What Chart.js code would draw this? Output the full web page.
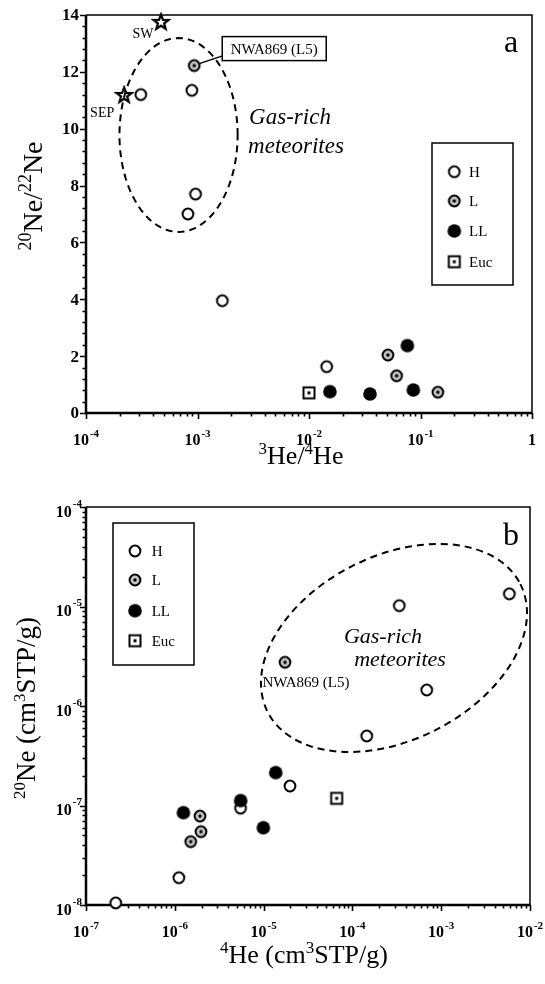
<!DOCTYPE html>
<html>
<head>
<meta charset="utf-8">
<script src="https://cdn.jsdelivr.net/npm/chart.js@4.4.1/dist/chart.umd.min.js"></script>
<style>
    html, body { margin: 0; padding: 0; background: #fff; }
    canvas { display: block; }
</style>
</head>
<body>
<canvas id="chartA" width="545" height="492"></canvas>
<canvas id="chartB" width="545" height="492"></canvas>
<script>
// ---- panel a : 20Ne/22Ne vs 3He/4He ----
const aHx = [3.1e-4, 8.9e-4, 9.6e-4, 8.2e-4, 1.67e-3, 0.0144];
const aHy = [11.2, 11.35, 7.7, 7.0, 3.95, 1.63];
const aLx = [9.35e-4, 0.051, 0.061, 0.143];
const aLy = [12.22, 2.04, 1.31, 0.73];
const aLLx = [0.0154, 0.0352, 0.0762, 0.0863];
const aLLy = [0.75, 0.67, 2.37, 0.81];
const aEucx = [0.0100];
const aEucy = [0.71];
const refNames = ["SW", "SEP"];
const refx = [4.7e-4, 2.2e-4];
const refy = [13.76, 11.19];

const aXTicks = [1e-4, 1e-3, 1e-2, 1e-1, 1];
const aXTickLabels = [["10", "-4"], ["10", "-3"], ["10", "-2"], ["10", "-1"], ["1", ""]];
const aYTicks = [0, 2, 4, 6, 8, 10, 12, 14];

// ---- panel b : 20Ne vs 4He ----
const bHx = [3.37e-4, 5.85e-3, 6.87e-4, 1.45e-4, 1.98e-5, 5.5e-6, 1.11e-6, 2.16e-7];
const bHy = [1.02e-5, 1.34e-5, 1.45e-6, 5.0e-7, 1.57e-7, 9.4e-8, 1.88e-8, 1.05e-8];
const bLx = [1.74e-5, 1.92e-6, 1.97e-6, 1.51e-6];
const bLy = [2.75e-6, 7.83e-8, 5.46e-8, 4.33e-8];
const bLLx = [1.37e-5, 9.93e-6, 5.52e-6, 1.25e-6];
const bLLy = [2.14e-7, 5.98e-8, 1.12e-7, 8.47e-8];
const bEucx = [6.65e-5];
const bEucy = [1.18e-7];

const bXTicks = [1e-7, 1e-6, 1e-5, 1e-4, 1e-3, 1e-2];
const bXTickLabels = [["10", "-7"], ["10", "-6"], ["10", "-5"], ["10", "-4"], ["10", "-3"], ["10", "-2"]];
const bYTicks = [1e-8, 1e-7, 1e-6, 1e-5, 1e-4];
const bYTickLabels = [["10", "-8"], ["10", "-7"], ["10", "-6"], ["10", "-5"], ["10", "-4"]];

const legendLabels = ["H", "L", "LL", "Euc"];

const FONT = '"Liberation Serif", "Times New Roman", serif';

// point markers drawn once on small canvases
function makeMarker(kind) {
    const c = document.createElement("canvas");
    c.width = 20; c.height = 20;
    const g = c.getContext("2d");
    const m = 10;
    g.strokeStyle = "#000";
    g.lineWidth = 2;
    if (kind === "H") {
        g.beginPath(); g.arc(m, m, 5.4, 0, Math.PI * 2);
        g.fillStyle = "#fff"; g.fill(); g.stroke();
    } else if (kind === "L") {
        g.beginPath(); g.arc(m, m, 5.4, 0, Math.PI * 2);
        g.fillStyle = "#c4c4c4"; g.fill(); g.stroke();
        g.beginPath(); g.arc(m, m, 1.7, 0, Math.PI * 2);
        g.fillStyle = "#000"; g.fill();
    } else if (kind === "LL") {
        g.beginPath(); g.arc(m, m, 6.8, 0, Math.PI * 2);
        g.fillStyle = "#000"; g.fill();
    } else if (kind === "Euc") {
        g.fillStyle = "#fff";
        g.fillRect(m - 5.5, m - 5.5, 11, 11);
        g.strokeRect(m - 5.5, m - 5.5, 11, 11);
        g.fillStyle = "#000";
        g.fillRect(m - 1.5, m - 1.5, 3, 3);
    } else if (kind === "star") {
        g.lineWidth = 2.3;
        g.lineJoin = "miter";
        g.beginPath();
        for (let i = 0; i < 10; i++) {
            const r = i % 2 === 0 ? 7.8 : 3.3;
            const a = -Math.PI / 2 + i * Math.PI / 5;
            const px = m + r * Math.cos(a), py = m + 0.5 + r * Math.sin(a);
            if (i === 0) g.moveTo(px, py); else g.lineTo(px, py);
        }
        g.closePath();
        g.fillStyle = "#fff"; g.fill(); g.stroke();
    }
    return c;
}

const markers = {
    H: makeMarker("H"),
    L: makeMarker("L"),
    LL: makeMarker("LL"),
    Euc: makeMarker("Euc"),
    star: makeMarker("star")
};

function scatterSet(label, xs, ys, marker) {
    return {
        label: label,
        data: xs.map((x, i) => ({ x: x, y: ys[i] })),
        pointStyle: marker,
        pointRadius: 7,
        pointHoverRadius: 7,
        showLine: false,
        clip: false
    };
}

function logMinor(fromExp, toExp) {
    const out = [];
    for (let e = fromExp; e < toExp; e++) {
        for (let k = 2; k <= 9; k++) out.push(k * Math.pow(10, e));
    }
    return out;
}

// "10" with a raised exponent; y is the middle of the base text
function drawPow(ctx, base, exp, x, y, align, expDy) {
    ctx.font = "bold 16px " + FONT;
    const wb = ctx.measureText(base).width;
    ctx.font = "bold 11px " + FONT;
    const we = exp ? ctx.measureText(exp).width + 1 : 0;
    const total = wb + we;
    const x0 = align === "right" ? x - total : x - total / 2;
    ctx.fillStyle = "#000";
    ctx.textAlign = "left";
    ctx.textBaseline = "middle";
    ctx.font = "bold 16px " + FONT;
    ctx.fillText(base, x0, y);
    if (exp) {
        ctx.font = "bold 11px " + FONT;
        ctx.fillText(exp, x0 + wb + 1, y - expDy);
    }
}

// text with superscript parts, centered on x, alphabetic baseline y
function drawRich(ctx, parts, x, y, size) {
    const supSize = Math.round(size * 0.64);
    let w = 0;
    parts.forEach(p => {
        ctx.font = (p.sup ? supSize : size) + "px " + FONT;
        p.w = ctx.measureText(p.t).width;
        w += p.w;
    });
    let cx = x - w / 2;
    ctx.fillStyle = "#000";
    ctx.textAlign = "left";
    ctx.textBaseline = "alphabetic";
    parts.forEach(p => {
        ctx.font = (p.sup ? supSize : size) + "px " + FONT;
        ctx.fillText(p.t, cx, p.sup ? y - size * 0.38 : y);
        cx += p.w;
    });
}

function drawFrame(chart, spec) {
    const ctx = chart.ctx;
    const ca = chart.chartArea;
    const xs = chart.scales.x, ys = chart.scales.y;
    ctx.save();
    ctx.strokeStyle = "#000";

    // thin top / right border
    ctx.lineWidth = 1.5;
    ctx.beginPath();
    ctx.moveTo(ca.left, ca.top); ctx.lineTo(ca.right, ca.top); ctx.lineTo(ca.right, ca.bottom);
    ctx.stroke();

    // ticks
    ctx.lineWidth = 1.6;
    ctx.beginPath();
    spec.xMajor.forEach(v => {
        const px = Math.round(xs.getPixelForValue(v)) + 0.5;
        ctx.moveTo(px, ca.bottom); ctx.lineTo(px, ca.bottom + 6);
    });
    spec.xMinor.forEach(v => {
        const px = Math.round(xs.getPixelForValue(v)) + 0.5;
        ctx.moveTo(px, ca.bottom); ctx.lineTo(px, ca.bottom + 3.5);
    });
    spec.yMajor.forEach(v => {
        const py = Math.round(ys.getPixelForValue(v)) + 0.5;
        ctx.moveTo(ca.left, py); ctx.lineTo(ca.left - 6, py);
    });
    spec.yMinor.forEach(v => {
        const py = Math.round(ys.getPixelForValue(v)) + 0.5;
        ctx.moveTo(ca.left, py); ctx.lineTo(ca.left - 3.5, py);
    });
    ctx.stroke();

    // thick left / bottom axes
    ctx.lineWidth = 2.5;
    ctx.beginPath();
    ctx.moveTo(ca.left, ca.top); ctx.lineTo(ca.left, ca.bottom); ctx.lineTo(ca.right, ca.bottom);
    ctx.stroke();

    // tick labels
    spec.xMajor.forEach((v, i) => {
        const lab = spec.xLabels[i];
        drawPow(ctx, lab[0], lab[1], xs.getPixelForValue(v), ca.bottom + 28, "center", 7);
    });
    spec.yMajor.forEach((v, i) => {
        const py = ys.getPixelForValue(v);
        if (spec.yLabels) {
            const lab = spec.yLabels[i];
            drawPow(ctx, lab[0], lab[1], ca.left - 4, py + 5.5, "right", 8.5);
        } else {
            ctx.font = "bold 17px " + FONT;
            ctx.fillStyle = "#000";
            ctx.textAlign = "right";
            ctx.textBaseline = "middle";
            ctx.fillText(String(v), ca.left - 7, py + 1);
        }
    });

    // axis titles
    drawRich(ctx, spec.xTitle, spec.xTitlePos[0], spec.xTitlePos[1], spec.titleSize);
    ctx.save();
    ctx.translate(spec.yTitlePos[0], spec.yTitlePos[1]);
    ctx.rotate(-Math.PI / 2);
    drawRich(ctx, spec.yTitle, 0, 0, spec.yTitleSize);
    ctx.restore();

    ctx.restore();
}

function drawLegend(ctx, box, rowsY, markerX, textX) {
    ctx.save();
    ctx.fillStyle = "#fff";
    ctx.fillRect(box[0], box[1], box[2], box[3]);
    ctx.strokeStyle = "#000";
    ctx.lineWidth = 1.5;
    ctx.strokeRect(box[0], box[1], box[2], box[3]);
    const keys = ["H", "L", "LL", "Euc"];
    ctx.font = "15px " + FONT;
    ctx.fillStyle = "#000";
    ctx.textAlign = "left";
    ctx.textBaseline = "middle";
    legendLabels.forEach((lab, i) => {
        const mk = markers[keys[i]];
        ctx.drawImage(mk, markerX - mk.width / 2, rowsY[i] - mk.height / 2);
        ctx.fillText(lab, textX, rowsY[i] + 1);
    });
    ctx.restore();
}

function italicPair(ctx, size, p1, p2) {
    ctx.save();
    ctx.font = "italic " + size + "px " + FONT;
    ctx.fillStyle = "#000";
    ctx.textAlign = "center";
    ctx.textBaseline = "middle";
    ctx.fillText("Gas-rich", p1[0], p1[1]);
    ctx.fillText("meteorites", p2[0], p2[1]);
    ctx.restore();
}

const frameA = {
    id: "frameA",
    beforeDatasetsDraw(chart) {
        drawFrame(chart, {
            xMajor: aXTicks, xLabels: aXTickLabels, xMinor: logMinor(-4, 0),
            yMajor: aYTicks, yLabels: null,
            yMinor: Array.from({ length: 36 }, (_, i) => i * 0.4).filter(v => v % 2 > 0.01 && v < 14),
            titleSize: 26, yTitleSize: 28,
            xTitle: [{ t: "3", sup: true }, { t: "He/" }, { t: "4", sup: true }, { t: "He" }],
            xTitlePos: [301, 464],
            yTitle: [{ t: "20", sup: true }, { t: "Ne/" }, { t: "22", sup: true }, { t: "Ne" }],
            yTitlePos: [42, 196]
        });
    },
    afterDatasetsDraw(chart) {
        const ctx = chart.ctx;
        const xs = chart.scales.x, ys = chart.scales.y;
        ctx.save();

        // dashed ellipse round the gas-rich group (log-x centre, decades)
        const cLog = -3.17, rDec = 0.53, cY = 9.78, rY = 3.41;
        ctx.strokeStyle = "#000";
        ctx.lineWidth = 2;
        ctx.setLineDash([7, 5]);
        ctx.beginPath();
        for (let k = 0; k <= 120; k++) {
            const t = k / 120 * Math.PI * 2;
            const px = xs.getPixelForValue(Math.pow(10, cLog + rDec * Math.cos(t)));
            const py = ys.getPixelForValue(cY + rY * Math.sin(t));
            if (k === 0) ctx.moveTo(px, py); else ctx.lineTo(px, py);
        }
        ctx.stroke();
        ctx.setLineDash([]);

        italicPair(ctx, 23, [290, 118], [296, 147]);

        // SW / SEP labels
        ctx.font = "14px " + FONT;
        ctx.fillStyle = "#000";
        ctx.textAlign = "center";
        ctx.textBaseline = "middle";
        const offs = [[-18, 13], [-22, 18]];
        refNames.forEach((n, i) => {
            const px = xs.getPixelForValue(refx[i]), py = ys.getPixelForValue(refy[i]);
            ctx.fillText(n, px + offs[i][0], py + offs[i][1]);
        });

        // NWA869 call-out box
        const nx = xs.getPixelForValue(aLx[0]), ny = ys.getPixelForValue(aLy[0]);
        ctx.lineWidth = 1.5;
        ctx.beginPath();
        ctx.moveTo(nx + 5, ny - 2);
        ctx.lineTo(nx + 29, ny - 10);
        ctx.stroke();
        ctx.fillStyle = "#fff";
        ctx.fillRect(nx + 28, ny - 29, 104, 24);
        ctx.strokeRect(nx + 28, ny - 29, 104, 24);
        ctx.fillStyle = "#000";
        ctx.font = "15px " + FONT;
        ctx.fillText("NWA869 (L5)", nx + 80, ny - 16);

        // panel letter
        ctx.font = "32px " + FONT;
        ctx.textAlign = "center";
        ctx.textBaseline = "alphabetic";
        ctx.fillText("a", 511, 52);
        ctx.restore();

        drawLegend(ctx, [432, 143, 81, 142], [171.7, 201, 231, 261.7], 454.3, 469);
    }
};

const frameB = {
    id: "frameB",
    beforeDatasetsDraw(chart) {
        drawFrame(chart, {
            xMajor: bXTicks, xLabels: bXTickLabels, xMinor: logMinor(-7, -2),
            yMajor: bYTicks, yLabels: bYTickLabels, yMinor: logMinor(-8, -4),
            titleSize: 26, yTitleSize: 27,
            xTitle: [{ t: "4", sup: true }, { t: "He (cm" }, { t: "3", sup: true }, { t: "STP/g)" }],
            xTitlePos: [304, 471],
            yTitle: [{ t: "20", sup: true }, { t: "Ne (cm" }, { t: "3", sup: true }, { t: "STP/g)" }],
            yTitlePos: [35, 216]
        });
    },
    afterDatasetsDraw(chart) {
        const ctx = chart.ctx;
        const xs = chart.scales.x, ys = chart.scales.y;
        ctx.save();

        // tilted dashed ellipse round the gas-rich group
        const ex = xs.getPixelForValue(2.94e-4), ey = ys.getPixelForValue(3.83e-6);
        ctx.strokeStyle = "#000";
        ctx.lineWidth = 2;
        ctx.setLineDash([7, 5]);
        ctx.beginPath();
        ctx.ellipse(ex, ey, 141.6, 92, -0.468, 0, Math.PI * 2);
        ctx.stroke();
        ctx.setLineDash([]);

        italicPair(ctx, 22, [383, 145], [400, 168]);

        // NWA869 label under its point
        const nx = xs.getPixelForValue(bLx[0]), ny = ys.getPixelForValue(bLy[0]);
        ctx.font = "15px " + FONT;
        ctx.fillStyle = "#000";
        ctx.textAlign = "center";
        ctx.textBaseline = "middle";
        ctx.fillText("NWA869 (L5)", nx + 21, ny + 21);

        ctx.font = "32px " + FONT;
        ctx.textBaseline = "alphabetic";
        ctx.fillText("b", 511, 53);
        ctx.restore();

        drawLegend(ctx, [113, 31, 81, 142], [59, 88, 118.7, 148.7], 135, 151.7);
    }
};

function baseOptions(rightPad, xScale, yScale) {
    return {
        responsive: false,
        animation: false,
        devicePixelRatio: 1,
        events: [],
        layout: { padding: { left: 86, top: 15, right: rightPad, bottom: 79 } },
        plugins: { legend: { display: false }, tooltip: { enabled: false } },
        scales: { x: xScale, y: yScale }
    };
}

new Chart(document.getElementById("chartA").getContext("2d"), {
    type: "scatter",
    data: {
        datasets: [
            scatterSet("LL", aLLx, aLLy, markers.LL),
            scatterSet("L", aLx, aLy, markers.L),
            scatterSet("Euc", aEucx, aEucy, markers.Euc),
            scatterSet("H", aHx, aHy, markers.H),
            scatterSet("SW/SEP", refx, refy, markers.star)
        ]
    },
    options: baseOptions(13,
        { type: "logarithmic", min: 1e-4, max: 1, display: false },
        { type: "linear", min: 0, max: 14, display: false }),
    plugins: [frameA]
});

new Chart(document.getElementById("chartB").getContext("2d"), {
    type: "scatter",
    data: {
        datasets: [
            scatterSet("LL", bLLx, bLLy, markers.LL),
            scatterSet("L", bLx, bLy, markers.L),
            scatterSet("Euc", bEucx, bEucy, markers.Euc),
            scatterSet("H", bHx, bHy, markers.H)
        ]
    },
    options: baseOptions(15,
        { type: "logarithmic", min: 1e-7, max: 1e-2, display: false },
        { type: "logarithmic", min: 1e-8, max: 1e-4, display: false }),
    plugins: [frameB]
});
</script>
</body>
</html>
